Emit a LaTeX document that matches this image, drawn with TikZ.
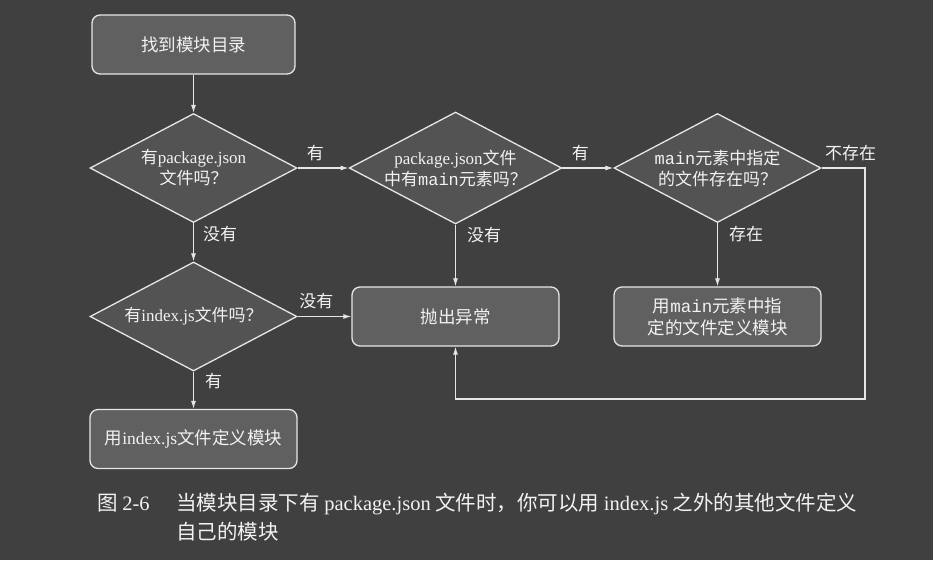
\documentclass[tikz,border=0pt]{standalone}
\usepackage{fontspec}
\setmainfont{Noto Sans CJK SC}
\newfontfamily\latf{Liberation Serif}
\newfontfamily\monof{Liberation Mono}
\newcommand\LW[1]{{\latf #1}}
\newcommand\MN[1]{{\monof #1}}
\usetikzlibrary{shapes.geometric,arrows.meta}
\definecolor{bgc}{HTML}{404040}
\definecolor{boxc}{HTML}{606060}
\definecolor{diac}{HTML}{535353}
\definecolor{linec}{HTML}{E6E6E6}
\definecolor{txtc}{HTML}{F2F2F2}
\tikzset{
  procbox/.style={draw=linec, line width=1.3pt, fill=boxc, rounded corners=8pt,
    minimum width=207pt, minimum height=59pt, inner sep=2pt, align=center,
    text=txtc, font=\fontsize{17.5}{22}\selectfont},
  decision/.style={diamond, aspect=1.9, draw=linec, line width=1.3pt, fill=diac,
    minimum width=207pt, minimum height=109pt, inner sep=0pt, align=center,
    text=txtc, font=\fontsize{17}{21}\selectfont},
  conn/.style={draw=linec, line width=1.1pt, -{Latex[length=8pt,width=5pt]}},
  lbl/.style={text=txtc, font=\fontsize{17}{20}\selectfont, inner sep=3pt},
  captxt/.style={text=txtc, font=\fontsize{20.5}{24}\selectfont, inner sep=0pt, anchor=base west}
}
\begin{document}
\begin{tikzpicture}[x=1pt,y=-1pt]
\fill[bgc] (0,0) rectangle (933,560);
\useasboundingbox (0,0) rectangle (933,560);

\node[procbox, minimum width=203pt] (start) at (193.5,44.5) {找到模块目录};
\node[decision] (d1) at (193.5,168) {有\LW{package.json}\\文件吗？};
\node[decision] (d2) at (455.5,168) {\LW{package.json}文件\\中有\MN{main}元素吗？};
\node[decision] (d3) at (717.5,168) {\MN{main}元素中指定\\的文件存在吗？};
\node[decision] (d4) at (193.5,316.5) {有\LW{index.js}文件吗？};
\node[procbox] (throw) at (455.5,316.5) {抛出异常};
\node[procbox] (usemain) at (717.5,316.5) {用\MN{main}元素中指\\定的文件定义模块};
\node[procbox] (useindex) at (193.5,439) {用\LW{index.js}文件定义模块};

\coordinate (loopR) at (865,399);
\coordinate (loopL) at (455.5,399);

\draw[conn] (start) -- (d1);
\draw[conn] (d1) -- node[lbl, above=4pt, pos=0.35] (l1) {有} (d2);
\draw[conn] (d2) -- node[lbl, above=4pt, pos=0.35] (l2) {有} (d3);
\draw[conn] (d1) -- node[lbl, right=6pt, pos=0.28] (l3) {没有} (d4);
\draw[conn] (d2) -- node[lbl, right=8pt, pos=0.17] (l4) {没有} (throw);
\draw[conn] (d3) -- node[lbl, right=8pt, pos=0.17] (l5) {存在} (usemain);
\draw[conn] (d4) -- node[lbl, above=4pt, pos=0.35] (l6) {没有} (throw);
\draw[conn] (d4) -- node[lbl, right=8pt, pos=0.25] (l7) {有} (useindex);
\draw[conn] (d3.east) node[lbl, anchor=south west, yshift=4pt] (l8) {不存在} -| (loopR) -- (loopL) -- (throw.south);

\node[captxt] (capnum) at (97,510) {图 \LW{2-6}};
\node[captxt] (cap1) at (176,510) {当模块目录下有 \LW{package.json} 文件时，你可以用 \LW{index.js} 之外的其他文件定义};
\node[captxt] (cap2) at (176,539) {自己的模块};
\end{tikzpicture}
\end{document}
